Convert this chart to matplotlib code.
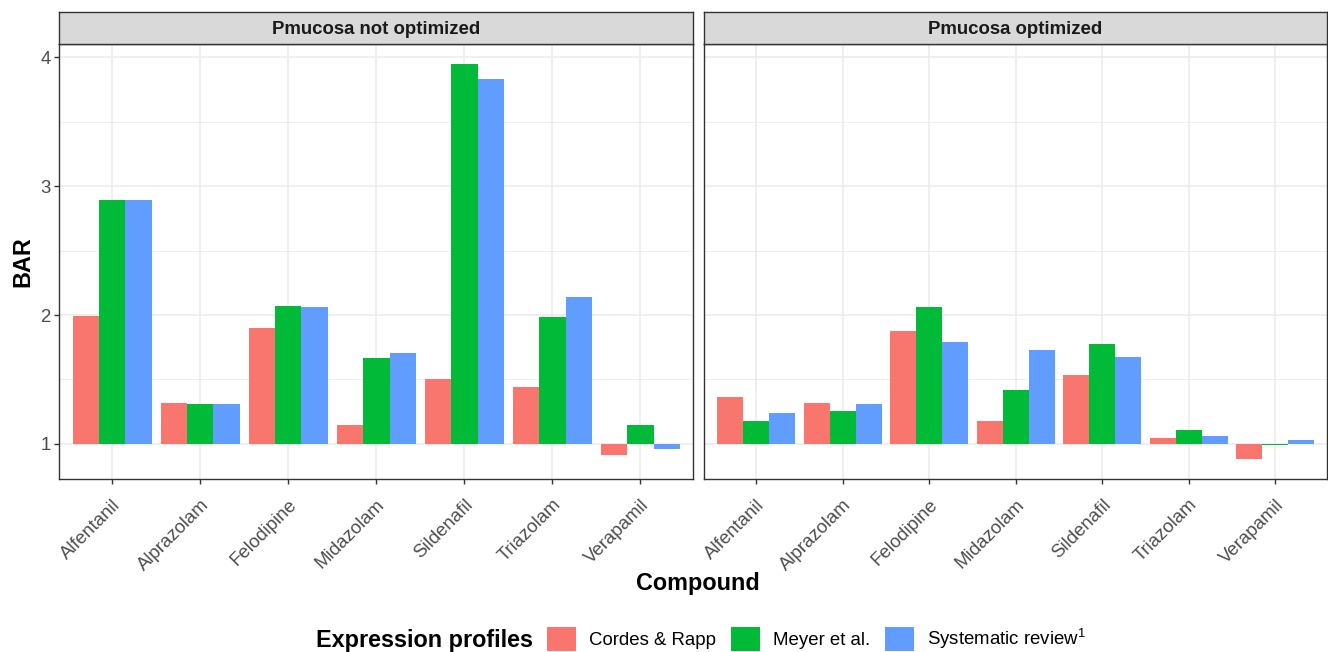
import numpy as np
import matplotlib
matplotlib.use("Agg")
import matplotlib.pyplot as plt
from matplotlib.patches import Patch

plt.rcParams['font.family'] = ['Liberation Sans', 'DejaVu Sans']
plt.rcParams['mathtext.fontset'] = 'custom'
plt.rcParams['mathtext.rm'] = 'Liberation Sans'
plt.rcParams['mathtext.default'] = 'regular'

# data (BAR, bars drawn from baseline 1)
compounds = ['Alfentanil', 'Alprazolam', 'Felodipine', 'Midazolam',
             'Sildenafil', 'Triazolam', 'Verapamil']
profiles = ['Cordes & Rapp', 'Meyer et al.', r'Systematic review$^{1}$']
colors = ['#F8766D', '#00BA38', '#619CFF']
panels = ['Pmucosa not optimized', 'Pmucosa optimized']

not_opt_cordes = [1.99, 1.317, 1.896, 1.145, 1.504, 1.439, 0.917]
not_opt_meyer = [2.893, 1.309, 2.074, 1.665, 3.950, 1.982, 1.145]
not_opt_review = [2.893, 1.309, 2.059, 1.706, 3.831, 2.142, 0.958]

opt_cordes = [1.362, 1.315, 1.875, 1.181, 1.531, 1.047, 0.881]
opt_meyer = [1.175, 1.252, 2.059, 1.415, 1.777, 1.104, 0.988]
opt_review = [1.243, 1.309, 1.792, 1.730, 1.671, 1.059, 1.033]

panel_data = [[not_opt_cordes, not_opt_meyer, not_opt_review],
              [opt_cordes, opt_meyer, opt_review]]

W, H = 1328, 652
fig = plt.figure(figsize=(W / 100, H / 100), dpi=100)

dark = '#333333'
grey_txt = '#4D4D4D'
grid_col = '#EBEBEB'
small = 13.4
big = 16.8

panel_x = [(59.3, 693.3), (704.2, 1327.0)]
p_top, p_bot = 44.0, 479.0
strip_top = 11.7

all_vals = np.concatenate([np.ravel(p) for p in panel_data])
lo, hi = min(all_vals.min(), 1.0), all_vals.max()
pad = (hi - lo) * 0.05
ylim = (lo - pad, hi + pad)

x = np.arange(len(compounds))
bw = 0.3
for k, (x0, x1) in enumerate(panel_x):
    ax = fig.add_axes([x0 / W, (H - p_bot) / H, (x1 - x0) / W, (p_bot - p_top) / H])
    ax.set_facecolor('white')
    for j, vals in enumerate(panel_data[k]):
        vals = np.array(vals)
        ax.bar(x + (j - 1) * bw, vals - 1, bottom=1, width=bw,
               color=colors[j], linewidth=0, zorder=3)
    ax.set_xlim(-0.6, len(compounds) - 0.4)
    ax.set_ylim(*ylim)
    ax.set_yticks([1, 2, 3, 4])
    ax.set_yticks([1.5, 2.5, 3.5], minor=True)
    ax.set_xticks(x)
    ax.set_xticklabels(compounds, rotation=45, ha='right', va='top',
                       rotation_mode='anchor')
    ax.grid(True, which='major', color=grid_col, lw=1.1, zorder=0)
    ax.grid(True, which='minor', axis='y', color=grid_col, lw=0.55, zorder=0)
    ax.set_axisbelow(True)
    ax.tick_params(axis='both', which='major', length=3.4, width=1.0,
                   color=dark, labelsize=small, labelcolor=grey_txt, pad=3)
    ax.tick_params(axis='x', which='major', pad=9)
    ax.tick_params(axis='y', which='minor', length=0)
    if k == 1:
        ax.tick_params(axis='y', which='major', length=0, labelleft=False)
    for s in ax.spines.values():
        s.set_color(dark)
        s.set_linewidth(1.0)
        s.set_zorder(5)

    sax = fig.add_axes([x0 / W, (H - p_top) / H, (x1 - x0) / W, (p_top - strip_top) / H])
    sax.set_facecolor('#D9D9D9')
    sax.set_xticks([])
    sax.set_yticks([])
    for s in sax.spines.values():
        s.set_color(dark)
        s.set_linewidth(1.0)
    sax.text(0.5, 0.5, panels[k], transform=sax.transAxes, ha='center',
             va='center_baseline', fontsize=small, fontweight='bold', color='#1A1A1A')

fig.text(23 / W, (H - 262) / H, 'BAR', rotation=90, ha='center', va='center',
         fontsize=big, fontweight='bold')
fig.text(698 / W, (H - 590) / H, 'Compound', ha='center', va='baseline',
         fontsize=big, fontweight='bold')

fig.text(316 / W, (H - 647) / H, 'Expression profiles', ha='left',
         va='baseline', fontsize=big, fontweight='bold')
handles = [Patch(facecolor=c, edgecolor='none') for c in colors]
fig.legend(handles, profiles, ncol=3, frameon=False, loc='center left',
           bbox_to_anchor=(547 / W, (H - 639) / H), borderpad=0,
           borderaxespad=0, fontsize=small, handlelength=1.55,
           handleheight=1.55, handletextpad=0.72, columnspacing=0.78)

fig.savefig('out.png', dpi=100)
